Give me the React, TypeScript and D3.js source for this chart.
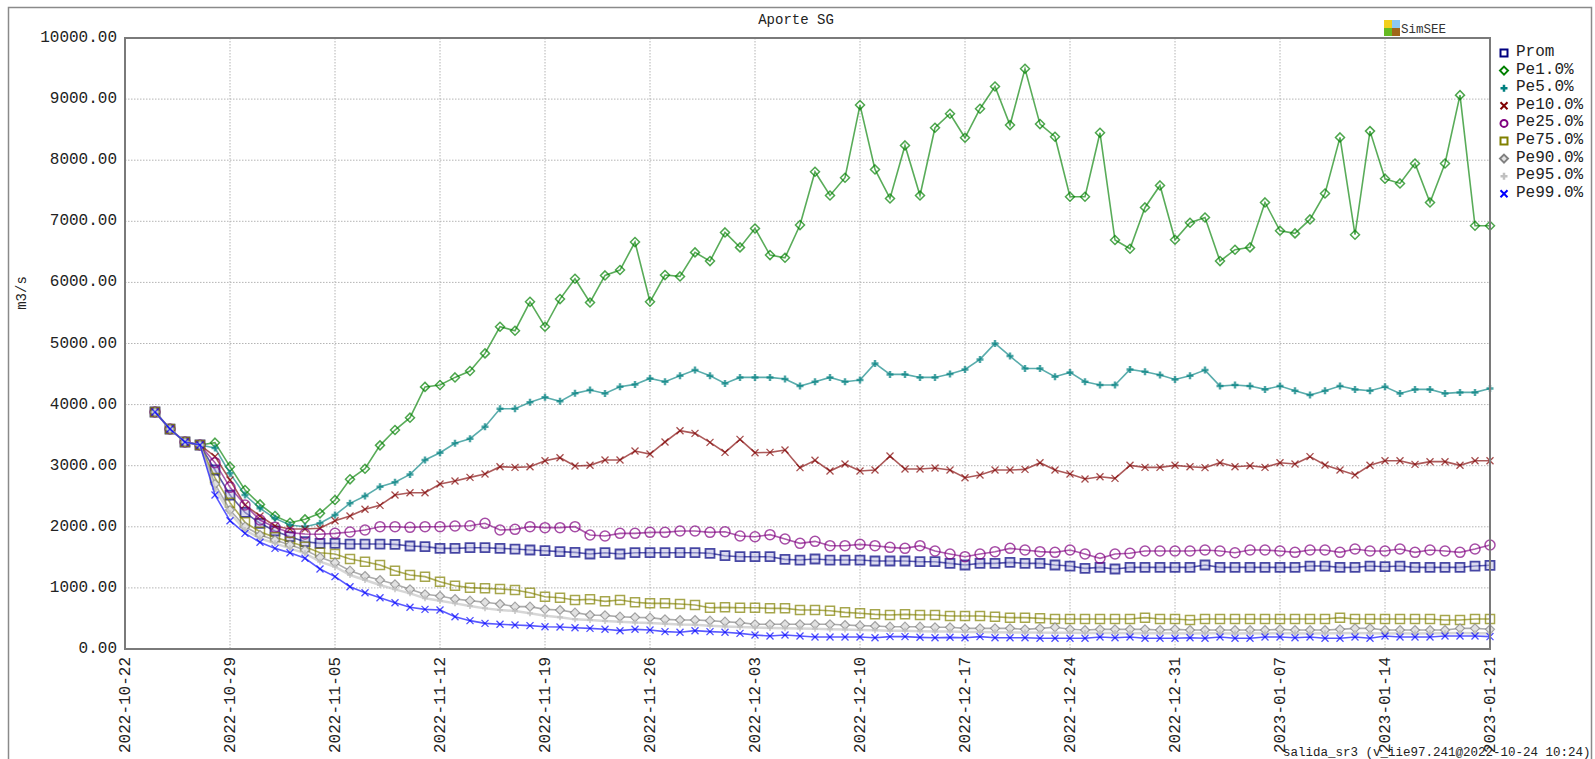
import React from 'react';
import * as d3 from 'd3';

const dates: Date[] = d3.utcDays(new Date(Date.UTC(2022, 9, 24)), new Date(Date.UTC(2023, 0, 22)));

const xTickLabels = ['2022-10-22', '2022-10-29', '2022-11-05', '2022-11-12', '2022-11-19', '2022-11-26', '2022-12-03', '2022-12-10', '2022-12-17', '2022-12-24', '2022-12-31', '2023-01-07', '2023-01-14', '2023-01-21'];
const yTicks = [0, 1000, 2000, 3000, 4000, 5000, 6000, 7000, 8000, 9000, 10000];

const prom = [3879,3600,3388,3339,2930,2520,2237,2057,1931,1838,
1756,1729,1729,1718,1718,1718,1713,1686,1675,1647,
1647,1658,1658,1647,1636,1620,1609,1593,1582,1555,
1576,1555,1576,1576,1576,1576,1576,1566,1527,1511,
1511,1511,1467,1456,1473,1456,1456,1456,1440,1440,
1440,1429,1429,1402,1375,1402,1402,1418,1402,1402,
1375,1358,1320,1336,1309,1336,1336,1336,1336,1336,
1375,1336,1336,1336,1336,1336,1336,1358,1358,1336,
1336,1358,1347,1358,1336,1336,1336,1336,1358,1370];

const pe1 = [3879,3600,3388,3339,3377,2984,2602,2367,2177,2067,
2122,2220,2438,2777,2951,3333,3584,3786,4290,4320,
4445,4549,4838,5274,5209,5683,5274,5727,6060,5672,
6114,6202,6660,5683,6120,6098,6491,6349,6818,6573,
6883,6447,6403,6938,7811,7423,7713,8902,7849,7374,
8242,7423,8531,8760,8367,8842,9207,8575,9496,8591,
8384,7402,7402,8449,6693,6551,7227,7587,6698,6976,
7063,6349,6535,6573,7309,6845,6802,7031,7456,8373,
6780,8476,7696,7620,7947,7309,7947,9065,6927,6927];

const pe5 = [3879,3600,3388,3339,3290,2875,2520,2302,2138,2029,
2002,2057,2193,2384,2504,2657,2728,2858,3093,3213,
3366,3442,3638,3933,3933,4037,4119,4053,4184,4238,
4183,4292,4331,4429,4374,4472,4565,4472,4347,4445,
4445,4445,4418,4303,4374,4445,4374,4401,4674,4494,
4494,4445,4445,4500,4576,4740,5002,4794,4592,4592,
4456,4527,4374,4320,4320,4576,4538,4483,4412,4472,
4565,4303,4320,4303,4249,4303,4227,4156,4227,4303,
4249,4227,4292,4183,4249,4249,4183,4200,4200,4265];

const pe10 = [3879,3600,3388,3339,3150,2766,2357,2177,2013,1964,
1964,1975,2100,2177,2286,2351,2520,2558,2558,2700,
2749,2809,2864,2984,2973,2984,3082,3131,2995,3006,
3093,3093,3240,3191,3388,3573,3529,3382,3218,3431,
3213,3218,3257,2968,3088,2913,3028,2913,2929,3158,
2946,2946,2962,2929,2804,2848,2929,2929,2940,3049,
2929,2864,2782,2820,2793,3006,2973,2973,3006,2984,
2968,3049,2984,3000,2973,3049,3028,3148,3011,2929,
2848,3006,3082,3082,3022,3066,3066,3006,3082,3082];

const pe25 = [3879,3600,3388,3339,3050,2646,2357,2111,1991,1904,
1882,1877,1893,1915,1947,2002,2002,1991,2002,2002,
2013,2018,2057,1947,1958,2002,1986,1986,2002,1866,
1849,1893,1893,1909,1909,1931,1931,1909,1920,1849,
1838,1871,1800,1729,1762,1691,1691,1713,1691,1664,
1647,1691,1604,1555,1511,1555,1593,1647,1620,1593,
1582,1620,1555,1484,1555,1566,1604,1604,1604,1604,
1620,1604,1576,1620,1620,1604,1582,1620,1620,1582,
1636,1604,1604,1636,1582,1620,1604,1582,1636,1702];

const pe75 = [3879,3600,3388,3339,2800,2395,2073,1920,1827,1756,
1675,1576,1555,1473,1429,1375,1282,1211,1184,1102,
1036,1004,993,982,966,922,856,840,802,813,
780,802,764,747,747,736,720,676,682,676,
676,665,665,638,638,627,600,584,567,556,
567,556,556,540,540,540,529,513,513,502,
491,491,491,491,491,491,513,491,491,475,
491,491,491,491,491,491,491,491,491,513,
491,491,491,491,491,491,475,475,491,491];

const pe90 = [3879,3600,3388,3339,2700,2275,2002,1866,1784,1702,
1620,1500,1413,1282,1195,1129,1058,976,895,867,
818,791,764,736,693,693,649,638,595,556,
551,529,518,513,485,475,475,464,447,431,
404,404,404,404,404,404,393,382,376,365,
365,365,355,355,338,338,338,338,322,338,
355,322,311,322,322,322,322,311,322,311,
311,311,311,311,311,322,311,311,311,322,
338,338,311,311,311,311,311,338,338,322];

const pe95 = [3879,3600,3388,3339,2620,2220,1947,1811,1729,1647,
1566,1429,1347,1211,1129,1047,976,911,829,791,
747,704,665,638,622,584,546,518,485,475,
458,445,432,425,412,400,395,380,370,362,
350,345,338,335,330,322,318,310,305,300,
298,292,288,285,280,278,275,272,270,268,
266,265,262,260,262,258,260,256,258,255,
256,258,254,256,255,258,256,254,256,258,
260,258,255,256,254,256,258,260,258,256];

const pe99 = [3879,3600,3388,3339,2520,2100,1893,1746,1647,1576,
1484,1309,1184,1020,922,840,758,682,649,638,
529,464,420,404,393,382,365,360,349,338,
322,300,322,311,284,273,300,284,273,256,
229,213,229,213,196,196,196,196,185,202,
202,191,185,191,185,202,185,185,185,175,
175,175,175,196,185,196,175,175,175,185,
175,196,175,175,196,196,185,196,175,175,
196,175,213,196,196,196,213,213,213,202];

const seriesNames = ['Prom', 'Pe1.0%', 'Pe5.0%', 'Pe10.0%', 'Pe25.0%', 'Pe75.0%', 'Pe90.0%', 'Pe95.0%', 'Pe99.0%'];
const seriesValues = [prom, pe1, pe5, pe10, pe25, pe75, pe90, pe95, pe99];
const seriesColors = ['#000080', '#008000', '#008080', '#800000', '#800080', '#808000', '#808080', '#c0c0c0', '#0000ff'];
const seriesMarkers = ['square', 'diamond', 'plus', 'x', 'circle', 'square', 'diamond', 'plus', 'x'];

const title = 'Aporte SG';
const yLabel = 'm3/s';
const footer = 'salida_sr3 (v_iie97.241@2022-10-24 10:24)';

const FONT = '"Liberation Mono", "DejaVu Sans Mono", monospace';

const L = 125, R = 1490, T = 38, B = 649;

function markerPath(type: string, s: number): string {
  const h = s / 2;
  switch (type) {
    case 'square': return `M${-h},${-h}H${h}V${h}H${-h}Z`;
    case 'diamond': return `M0,${-h - 0.5}L${h + 0.5},0L0,${h + 0.5}L${-h - 0.5},0Z`;
    case 'plus': return `M${-h},0H${h}M0,${-h}V${h}`;
    case 'x': return `M${-h},${-h}L${h},${h}M${-h},${h}L${h},${-h}`;
    case 'circle': return `M${-h},0A${h},${h} 0 1,0 ${h},0A${h},${h} 0 1,0 ${-h},0Z`;
  }
  return '';
}

function markerStyle(type: string, color: string, i: number) {
  if (type === 'plus') return { fill: 'none', stroke: color, strokeWidth: i === 2 ? 2.5 : 2 };
  if (type === 'x') return { fill: 'none', stroke: color, strokeWidth: 1.3 };
  if (i === 6) return { fill: '#e2e2e2', stroke: color, strokeWidth: 1.2 };
  if (i === 0) return { fill: '#b8b8e0', fill_opacity: 0.5, stroke: color, strokeWidth: 1.8 };
  return { fill: 'none', stroke: color, strokeWidth: 1.5 };
}

export default function App() {
  const x = d3.scaleUtc()
    .domain([new Date(Date.UTC(2022, 9, 22)), new Date(Date.UTC(2023, 0, 21))])
    .range([L, R]);
  const y = d3.scaleLinear().domain([0, 10000]).range([B, T]);
  const tickDates = xTickLabels.map((s) => new Date(s + 'T00:00:00Z'));

  const line = d3.line<number>()
    .x((_, i) => x(dates[i]))
    .y((v) => y(v));

  const markerSizes = [9, 8, 7, 7, 10, 9, 8, 6, 7];

  return (
    <svg width={1595} height={759} style={{ position: 'absolute', left: 0, top: 0, background: '#fff' }} fontFamily={FONT}>
      <rect x={0} y={0} width={1595} height={759} fill="#fff" />
      <rect x={8.5} y={7.5} width={1583} height={800} fill="none" stroke="#8a8a8a" strokeWidth={1.5} />
      {yTicks.filter((t) => t > 0 && t < 10000).map((t) => (
        <line key={'gy' + t} x1={L} x2={R} y1={y(t)} y2={y(t)} stroke="#b4b4b4" strokeWidth={1} strokeDasharray="1.5,1.5" />
      ))}
      {tickDates.slice(1, -1).map((d, i) => (
        <line key={'gx' + i} x1={x(d)} x2={x(d)} y1={T} y2={B} stroke="#b4b4b4" strokeWidth={1} strokeDasharray="1.5,1.5" />
      ))}
      {seriesValues.map((vals, si) => (
        <g key={'s' + si}>
          <path d={line(vals) || ''} fill="none" stroke={seriesColors[si]} strokeOpacity={0.65} strokeWidth={si === 7 ? 2.5 : 1.6} />
          {vals.map((v, i) => {
            const st: any = markerStyle(seriesMarkers[si], seriesColors[si], si);
            return (
              <path key={i} transform={`translate(${x(dates[i])},${y(v)})`} d={markerPath(seriesMarkers[si], markerSizes[si])}
                fill={st.fill} fillOpacity={st.fill_opacity ?? 1} stroke={st.stroke} strokeWidth={st.strokeWidth} strokeOpacity={0.7} />
            );
          })}
        </g>
      ))}
      <rect x={L} y={T} width={R - L} height={B - T} fill="none" stroke="#7a7a7a" strokeWidth={2} />
      {yTicks.map((t) => (
        <text key={'yt' + t} x={117} y={y(t)} textAnchor="end" dominantBaseline="central" fontSize={16} fill="#222">{t.toFixed(2)}</text>
      ))}
      {tickDates.map((d, i) => (
        <text key={'xt' + i} transform={`translate(${x(d) + 1},${657}) rotate(-90)`} textAnchor="end" dominantBaseline="central" fontSize={16} fill="#222">{xTickLabels[i]}</text>
      ))}
      <text x={796} y={20} textAnchor="middle" dominantBaseline="central" fontSize={14} fill="#222">{title}</text>
      <text transform={`translate(22,293) rotate(-90)`} textAnchor="middle" dominantBaseline="central" fontSize={14} fill="#222">{yLabel}</text>
      <g>
        <rect x={1384} y={20} width={8} height={8} fill="#f2cf1d" />
        <rect x={1392} y={20} width={8} height={8} fill="#8cc8f2" />
        <rect x={1384} y={28} width={8} height={8} fill="#66bb22" />
        <rect x={1392} y={28} width={8} height={8} fill="#a0661a" />
        <text x={1401} y={29.5} dominantBaseline="central" fontSize={12.5} fill="#333">SimSEE</text>
      </g>
      {seriesNames.map((n, i) => {
        const yy = 52 + i * 17.6;
        return (
          <g key={'lg' + i}>
            <path transform={`translate(1504,${yy + 1})`} d={markerPath(seriesMarkers[i], 7)} fill={i === 6 ? '#e2e2e2' : 'none'}
              stroke={seriesColors[i]} strokeWidth={seriesMarkers[i] === 'plus' ? 2.5 : 2} />
            <text x={1516} y={yy} dominantBaseline="central" fontSize={16} fill="#222">{n}</text>
          </g>
        );
      })}
      <text x={1283} y={753} dominantBaseline="central" fontSize={12.5} fill="#222">{footer}</text>
    </svg>
  );
}
